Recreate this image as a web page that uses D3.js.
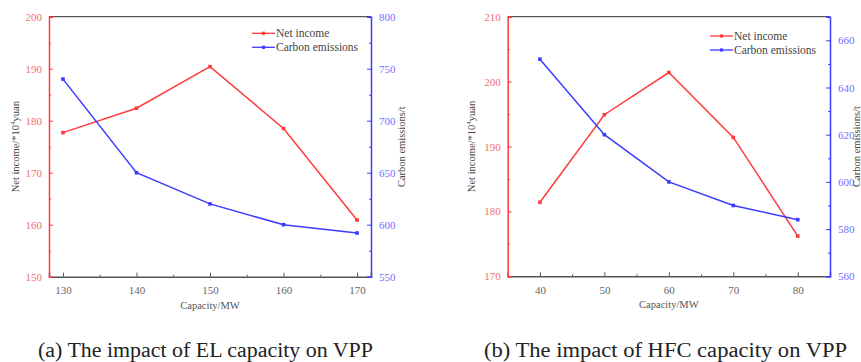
<!DOCTYPE html>
<html><head><meta charset="utf-8">
<script src="https://cdn.jsdelivr.net/npm/d3@7"></script>
<style>body{margin:0;background:#fff}svg{display:block}</style>
</head><body>
<svg id="c" width="861" height="362"></svg>
<script>
// Panel (a): EL capacity
const capA = [130, 140, 150, 160, 170];
const incomeA = [177.7, 182.4, 190.4, 178.5, 160.9];
const carbonA = [740, 650, 620, 600, 592];
const xTicksA = [130, 140, 150, 160, 170];
const yLTicksA = [150, 160, 170, 180, 190, 200];
const yRTicksA = [550, 600, 650, 700, 750, 800];
// Panel (b): HFC capacity
const capB = [40, 50, 60, 70, 80];
const incomeB = [181.4, 194.9, 201.4, 191.4, 176.2];
const carbonB = [652, 620, 600, 590, 584];
const xTicksB = [40, 50, 60, 70, 80];
const yLTicksB = [170, 180, 190, 200, 210];
const yRTicksB = [560, 580, 600, 620, 640, 660];
const seriesNames = ["Net income", "Carbon emissions"];
const captions = ["(a) The impact of EL capacity on VPP", "(b) The impact of HFC capacity on VPP"];

const RED = "#ff3b3b", BLUE = "#3b3bff";
const svg = d3.select("#c");
const FONT = "'Liberation Serif','Times New Roman',serif";

function panel(o) {
  const g = svg.append("g");
  const x = d3.scaleLinear().domain(o.xDom).range([o.x0, o.x1]);
  const yl = d3.scaleLinear().domain(o.ylDom).range([o.y1, o.y0]);
  const yr = d3.scaleLinear().domain(o.yrDom).range([o.y1, o.y0]);

  g.append("line").attr("x1", o.x0).attr("x2", o.x1).attr("y1", o.y0).attr("y2", o.y0)
    .attr("stroke", "#555").attr("stroke-width", 1.2);

  function minor(scale, ticks) {
    const m = [];
    for (let i = 0; i < ticks.length - 1; i++) m.push((ticks[i] + ticks[i + 1]) / 2);
    const last = ticks[ticks.length - 1], step = ticks[1] - ticks[0];
    if (last + step / 2 <= scale.domain()[1]) m.push(last + step / 2);
    return m;
  }

  const xa = g.append("g").attr("transform", `translate(0,${o.y1})`)
    .call(d3.axisBottom(x).tickValues(o.xTicks).tickSize(-4).tickPadding(10).tickFormat(d3.format("d")));
  xa.select(".domain").attr("stroke", "#555").attr("stroke-width", 1.5);
  xa.selectAll(".tick line").attr("stroke", "#555");
  xa.selectAll("text").attr("fill", "#666").attr("font-family", FONT).attr("font-size", 11);
  g.append("g").attr("transform", `translate(0,${o.y1})`)
    .call(d3.axisBottom(x).tickValues(minor(x, o.xTicks)).tickSize(-2).tickFormat(""))
    .call(s => s.select(".domain").remove()).selectAll("line").attr("stroke", "#555");

  const la = g.append("g").attr("transform", `translate(${o.x0},0)`)
    .call(d3.axisLeft(yl).tickValues(o.ylTicks).tickSize(-4).tickPadding(7).tickFormat(d3.format("d")));
  la.select(".domain").attr("stroke", RED).attr("stroke-width", 1.5);
  la.selectAll(".tick line").attr("stroke", RED);
  la.selectAll("text").attr("fill", "#f07070").attr("font-family", FONT).attr("font-size", 11);
  g.append("g").attr("transform", `translate(${o.x0},0)`)
    .call(d3.axisLeft(yl).tickValues(minor(yl, o.ylTicks)).tickSize(-2).tickFormat(""))
    .call(s => s.select(".domain").remove()).selectAll("line").attr("stroke", RED);

  const ra = g.append("g").attr("transform", `translate(${o.x1},0)`)
    .call(d3.axisRight(yr).tickValues(o.yrTicks).tickSize(-4).tickPadding(8).tickFormat(d3.format("d")));
  ra.select(".domain").attr("stroke", BLUE).attr("stroke-width", 1.5);
  ra.selectAll(".tick line").attr("stroke", BLUE);
  ra.selectAll("text").attr("fill", "#7070ff").attr("font-family", FONT).attr("font-size", 11);
  g.append("g").attr("transform", `translate(${o.x1},0)`)
    .call(d3.axisRight(yr).tickValues(minor(yr, o.yrTicks)).tickSize(-2).tickFormat(""))
    .call(s => s.select(".domain").remove()).selectAll("line").attr("stroke", BLUE);

  function series(xs, ys, sc, col) {
    const pts = xs.map((d, i) => [d, ys[i]]);
    g.append("path").datum(pts)
      .attr("d", d3.line().x(d => x(d[0])).y(d => sc(d[1])))
      .attr("fill", "none").attr("stroke", col).attr("stroke-width", 1.5);
    g.selectAll(null).data(pts).enter().append("rect")
      .attr("x", d => x(d[0]) - 1.8).attr("y", d => sc(d[1]) - 1.8)
      .attr("width", 3.6).attr("height", 3.6).attr("fill", col);
  }
  series(o.cap, o.income, yl, RED);
  series(o.cap, o.carbon, yr, BLUE);

  const cols = [RED, BLUE];
  seriesNames.forEach((n, i) => {
    const ly = o.legY + i * 14;
    g.append("line").attr("x1", o.legX).attr("x2", o.legX + 23).attr("y1", ly).attr("y2", ly)
      .attr("stroke", cols[i]).attr("stroke-width", 1.3);
    g.append("rect").attr("x", o.legX + 11.5 - 1.6).attr("y", ly - 1.6).attr("width", 3.2).attr("height", 3.2).attr("fill", cols[i]);
    g.append("text").attr("x", o.legX + 24).attr("y", ly + 4).text(n)
      .attr("font-family", FONT).attr("font-size", 11.5).attr("fill", "#444");
  });

  g.append("text").attr("x", (o.x0 + o.x1) / 2).attr("y", o.y1 + 32).attr("text-anchor", "middle")
    .attr("font-family", FONT).attr("font-size", 10.5).attr("fill", "#555").text("Capacity/MW");
  const lt = g.append("text").attr("transform", `translate(${o.ltX},${(o.y0 + o.y1) / 2}) rotate(-90)`)
    .attr("text-anchor", "middle").attr("font-family", FONT).attr("font-size", 10.5).attr("fill", "#444");
  lt.append("tspan").text("Net income/*10");
  lt.append("tspan").text("4").attr("font-size", 7).attr("dy", -4);
  lt.append("tspan").text("yuan").attr("dy", 4);
  g.append("text").attr("transform", `translate(${o.rtX},${(o.y0 + o.y1) / 2}) rotate(-90)`)
    .attr("text-anchor", "middle").attr("font-family", FONT).attr("font-size", 10.5).attr("fill", "#444")
    .text("Carbon emissions/t");

  svg.append("text").attr("x", o.capX).attr("y", 357).text(o.caption)
    .attr("font-family", FONT).attr("font-size", 20).attr("fill", "#222")
    .attr("textLength", o.capW).attr("lengthAdjust", "spacingAndGlyphs");
}

panel({x0: 49, x1: 371, y0: 16.7, y1: 276.7, xDom: [128.1, 171.9], ylDom: [150, 200], yrDom: [550, 800],
  xTicks: xTicksA, ylTicks: yLTicksA, yrTicks: yRTicksA, cap: capA, income: incomeA, carbon: carbonA,
  legX: 252, legY: 33.3, ltX: 19, rtX: 405, capX: 38, capW: 335, caption: captions[0]});
panel({x0: 507.7, x1: 830, y0: 16.7, y1: 276.3, xDom: [35, 85], ylDom: [170, 210], yrDom: [560, 670],
  xTicks: xTicksB, ylTicks: yLTicksB, yrTicks: yRTicksB, cap: capB, income: incomeB, carbon: carbonB,
  legX: 710, legY: 36, ltX: 475, rtX: 860, capX: 484, capW: 363, caption: captions[1]});
</script>
</body></html>
